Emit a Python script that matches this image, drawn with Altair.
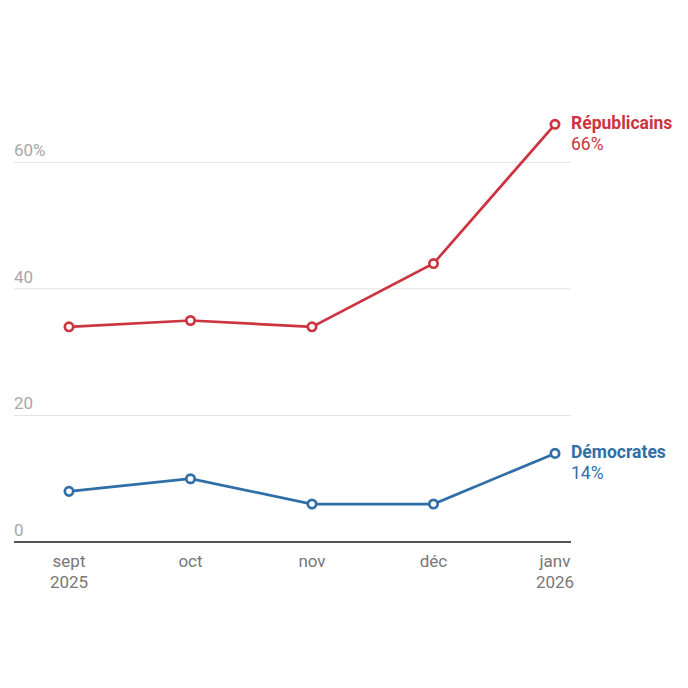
import altair as alt
import pandas as pd

months = ["sept\n2025", "oct", "nov", "déc", "janv\n2026"]
rep = [34, 35, 34, 44, 66]
dem = [8, 10, 6, 6, 14]
grid_vals = [0, 20, 40, 60]
grid_labels = ["0", "20", "40", "60%"]
series_names = ["Républicains", "Démocrates"]
RED = "#cc3440"
BLUE = "#2f6ea6"
FONT = "Roboto"

rows = []
for i, m in enumerate(months):
    rows.append({"i": i, "month": m, "series": series_names[0], "v": rep[i]})
    rows.append({"i": i, "month": m, "series": series_names[1], "v": dem[i]})
df = pd.DataFrame(rows)

xscale = alt.Scale(domain=[-0.4527, 4.1317], nice=False, zero=False)
yscale = alt.Scale(domain=[0, 70], nice=False)
cscale = alt.Scale(domain=series_names, range=[RED, BLUE])

X = alt.X("i:Q", scale=xscale, axis=None)
Y = alt.Y("v:Q", scale=yscale, axis=None)

grid_df = pd.DataFrame({"g": grid_vals, "lab": grid_labels})
grid = alt.Chart(grid_df).transform_filter("datum.g > 0").mark_rule(color="#e2e2e2", strokeWidth=1).encode(
    y=alt.Y("g:Q", scale=yscale, axis=None), x=alt.value(0), x2=alt.value(557)
)
base_rule = alt.Chart(grid_df).transform_filter("datum.g == 0").mark_rule(color="#555555", strokeWidth=2).encode(
    y=alt.Y("g:Q", scale=yscale, axis=None), x=alt.value(0), x2=alt.value(557)
)
grid_text = alt.Chart(grid_df).mark_text(
    align="left", baseline="alphabetic", dy=-6, font=FONT, fontSize=17, color="#a8a8a8"
).encode(y=alt.Y("g:Q", scale=yscale, axis=None), x=alt.value(0), text="lab:N")

mdf = pd.DataFrame({"i": list(range(len(months))), "month": months})
xlab = alt.Chart(mdf).mark_text(
    align="center", baseline="top", font=FONT, fontSize=17, color="#777777", lineBreak="\n", lineHeight=21
).encode(x=X, y=alt.value(455), text="month:N")

lines = alt.Chart(df).mark_line(strokeWidth=2.7).encode(
    x=X, y=Y, color=alt.Color("series:N", scale=cscale, legend=None), detail="series:N"
)
pts = alt.Chart(df).mark_point(filled=False, fill="white", fillOpacity=1, size=70, strokeWidth=2.7, opacity=1).encode(
    x=X, y=Y, color=alt.Color("series:N", scale=cscale, legend=None)
)

last = df[df["i"] == len(months) - 1].copy()
last["pct"] = last["v"].astype(int).astype(str) + "%"
name_txt = alt.Chart(last).mark_text(
    align="left", baseline="middle", dx=16, dy=0, font=FONT, fontSize=17.5, fontWeight="bold"
).encode(x=X, y=Y, text="series:N", color=alt.Color("series:N", scale=cscale, legend=None))
pct_txt = alt.Chart(last).mark_text(
    align="left", baseline="middle", dx=16, dy=21, font=FONT, fontSize=17.5
).encode(x=X, y=Y, text="pct:N", color=alt.Color("series:N", scale=cscale, legend=None))

chart = alt.layer(grid, base_rule, grid_text, xlab, lines, pts, name_txt, pct_txt).properties(
    width=557, height=443,
    padding={"left": 6, "top": 91, "right": 109, "bottom": 130},
    autosize=alt.AutoSizeParams(type="none"),
).configure_view(stroke=None)

chart.save("out.html", embed_options={"renderer": "svg", "actions": False})
